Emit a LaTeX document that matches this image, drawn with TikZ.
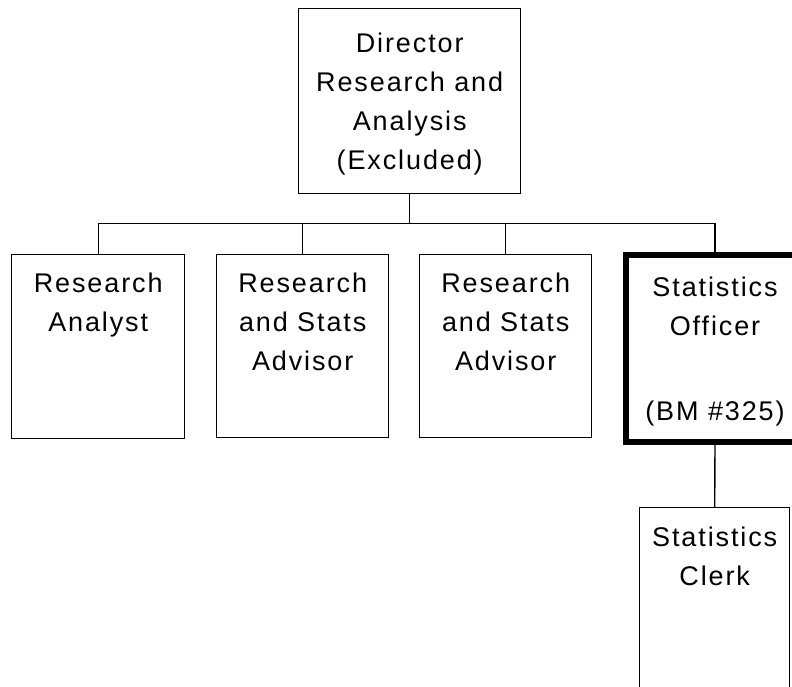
\documentclass[tikz,border=0pt]{standalone}
\usepackage{fontspec}
\setmainfont{Liberation Sans}[LetterSpace=7]
\begin{document}
\begin{tikzpicture}[x=1pt,y=-1pt,
  box/.style={draw, line width=1.4pt, inner sep=0pt, anchor=north west},
  thickbox/.style={draw, line width=6pt, inner sep=0pt, anchor=north west},
  lbl/.style={align=center, anchor=north, inner sep=0pt, font=\fontsize{27}{39}\selectfont},
  conn/.style={line width=1.4pt}]
\useasboundingbox (0,0) rectangle (792,686);
\clip (0,0) rectangle (792,686);
\fill[white] (0,0) rectangle (792,686);
% boxes
\node[box, minimum width=222pt, minimum height=185pt] (dir) at (298,8) {};
\node[box, minimum width=173pt, minimum height=184pt] (ra) at (11,254) {};
\node[box, minimum width=172pt, minimum height=183pt] (rsa1) at (216,254) {};
\node[box, minimum width=172pt, minimum height=183pt] (rsa2) at (419,254) {};
\node[thickbox, minimum width=178pt, minimum height=187pt] (so) at (623,252) {};
\node[box, minimum width=150pt, minimum height=200pt] (clerk) at (639,507) {};
% labels
\node[lbl] (tdir) at ([yshift=-25pt]dir.north) {Director\\Research and\\Analysis\\(Excluded)};
\node[lbl] (tra) at ([yshift=-19pt]ra.north) {Research\\Analyst};
\node[lbl] (trsa1) at ([yshift=-19pt]rsa1.north) {Research\\and Stats\\Advisor};
\node[lbl] (trsa2) at ([yshift=-19pt]rsa2.north) {Research\\and Stats\\Advisor};
\node[lbl] (tso) at ([yshift=-25pt]so.north) {Statistics\\Officer\\[46pt](BM \#325)};
\node[lbl] (tclerk) at ([yshift=-20pt]clerk.north) {Statistics\\Clerk};
% connectors
\coordinate (bar) at ([yshift=-29pt]dir.south);
\draw[conn] (dir.south) -- (bar);
\draw[conn] (ra.north) -- (ra.north |- bar) -- (so.north |- bar) -- (so.north);
\draw[conn] (rsa1.north) -- (rsa1.north |- bar);
\draw[conn] (rsa2.north) -- (rsa2.north |- bar);
\draw[conn] (so.south) -- (clerk.north);
\end{tikzpicture}
\end{document}
